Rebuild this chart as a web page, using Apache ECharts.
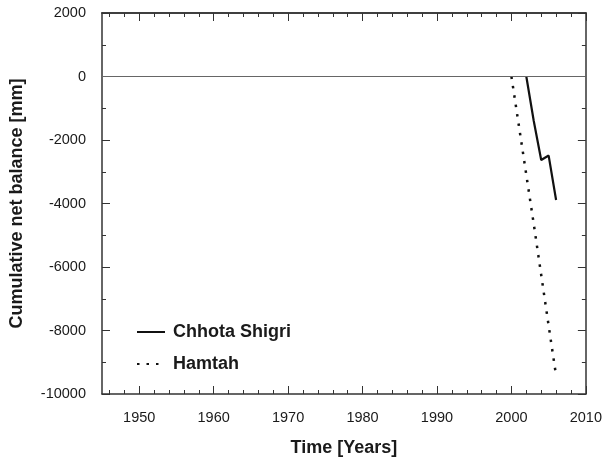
<!DOCTYPE html>
<html>
<head>
<meta charset="utf-8">
<script src="https://cdn.jsdelivr.net/npm/echarts@6/dist/echarts.min.js"></script>
<style>
  html, body { margin: 0; padding: 0; background: #fff; }
  #chart { width: 605px; height: 462px; }
</style>
</head>
<body>
<div id="chart"></div>
<script>
var years_cs = [2002, 2003, 2004, 2005, 2006];
var balance_cs = [0, -1400, -2630, -2490, -3890];
var years_ham = [2000, 2001, 2002, 2003, 2004, 2005, 2006];
var balance_ham = [0, -1550, -3100, -4650, -6250, -7850, -9420];
var xMajor = [1950, 1960, 1970, 1980, 1990, 2000, 2010];
var xMinor = [1946, 1948, 1952, 1954, 1956, 1958, 1962, 1964, 1966, 1968, 1972, 1974, 1976, 1978,
              1982, 1984, 1986, 1988, 1992, 1994, 1996, 1998, 2002, 2004, 2006, 2008];

function pairs(xs, ys) {
    return xs.map(function (x, i) { return [x, ys[i]]; });
}

var chart = echarts.init(document.getElementById('chart'));
var font = 'Liberation Sans, Arial, sans-serif';
var axisCol = '#333';
var plain = function (v) { return String(v); };

function xAx(pos, ticks, len, main) {
    return {
        type: 'value', position: pos, min: 1945, max: 2010,
        name: main ? 'Time [Years]' : '',
        nameLocation: 'middle', nameGap: 45,
        nameTextStyle: { fontFamily: font, fontSize: 18, fontWeight: 'bold', color: '#1a1a1a' },
        axisLine: { show: main || pos === 'top', onZero: false, lineStyle: { color: axisCol, width: 1.5 } },
        axisTick: { show: true, inside: true, length: len, customValues: ticks, lineStyle: { color: axisCol, width: 1 } },
        axisLabel: { show: main, customValues: xMajor, formatter: plain, margin: 16, fontFamily: font, fontSize: 14.5, color: '#1a1a1a' },
        splitLine: { show: false }
    };
}

function yAx(pos, main) {
    return {
        type: 'value', position: pos, min: -10000, max: 2000, interval: 2000,
        name: main ? 'Cumulative net balance [mm]' : '',
        nameLocation: 'middle', nameGap: 76,
        nameTextStyle: { fontFamily: font, fontSize: 18, fontWeight: 'bold', color: '#1a1a1a' },
        axisLine: { show: true, onZero: false, lineStyle: { color: axisCol, width: 1.5 } },
        axisTick: { show: true, inside: true, length: 8, lineStyle: { color: axisCol, width: 1 } },
        minorTick: { show: true, splitNumber: 2, length: 4, lineStyle: { color: axisCol, width: 1 } },
        axisLabel: { show: main, formatter: plain, margin: 16, fontFamily: font, fontSize: 14.5, color: '#1a1a1a' },
        splitLine: { show: false }
    };
}

var option = {
    backgroundColor: '#fff',
    animation: false,
    grid: { left: 102, right: 19, top: 13, bottom: 64 },
    xAxis: [
        xAx('bottom', xMajor, 8, true),
        xAx('bottom', xMinor, 4, false),
        xAx('top', xMajor, 8, false),
        xAx('top', xMinor, 4, false)
    ],
    yAxis: [yAx('left', true), yAx('right', false)],
    legend: {
        orient: 'vertical', left: 131, top: 318,
        itemWidth: 28, itemHeight: 10, itemGap: 14,
        itemStyle: { opacity: 0 },
        textStyle: { fontFamily: font, fontSize: 18, fontWeight: 'bold', color: '#1a1a1a', padding: [0, 0, 0, 3] },
        data: ['Chhota Shigri', 'Hamtah']
    },
    series: [{
        name: 'Chhota Shigri',
        type: 'line',
        data: pairs(years_cs, balance_cs),
        symbol: 'none',
        lineStyle: { color: '#111', width: 2.2 },
        itemStyle: { color: '#111' },
        markLine: {
            silent: true, symbol: 'none', label: { show: false },
            lineStyle: { color: '#666', width: 1, type: 'solid' },
            data: [{ yAxis: 0 }]
        },
        z: 3
    }, {
        name: 'Hamtah',
        type: 'line',
        data: pairs(years_ham, balance_ham),
        symbol: 'none',
        lineStyle: { color: '#111', width: 2.5, type: [2.5, 7] },
        itemStyle: { color: '#111' },
        z: 3
    }]
};
chart.setOption(option);
</script>
</body>
</html>
